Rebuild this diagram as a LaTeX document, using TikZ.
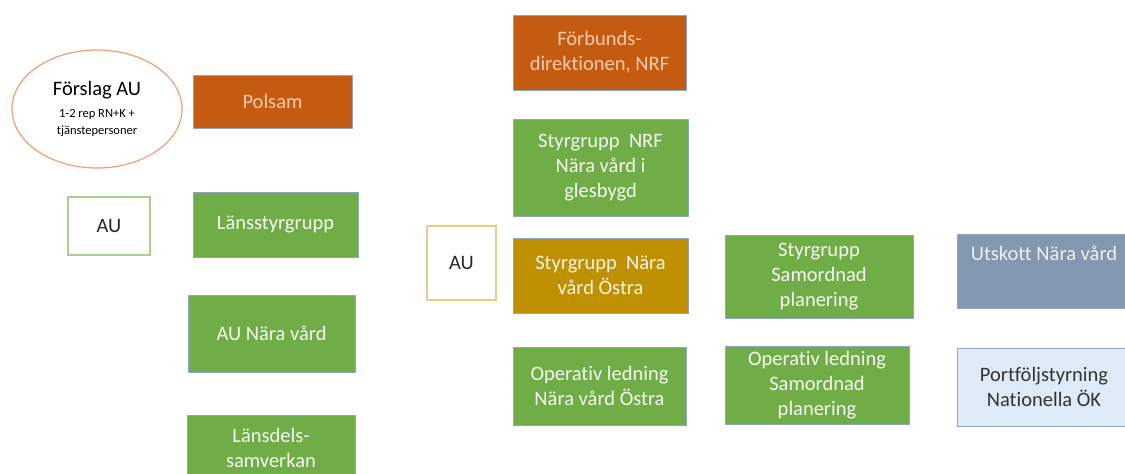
\documentclass[tikz,border=0pt]{standalone}
\usepackage{fontspec}
\setmainfont{Carlito}[Ligatures={NoCommon}]
\usetikzlibrary{shapes.geometric}
\definecolor{orgfill}{HTML}{C55A11}
\definecolor{grnfill}{HTML}{70AD47}
\definecolor{goldfill}{HTML}{BF9000}
\definecolor{slatefill}{HTML}{8497B0}
\definecolor{palefill}{HTML}{DEEBF7}
\definecolor{edge}{HTML}{8FA8C8}
\definecolor{peach}{HTML}{F8CBAD}
\definecolor{ringline}{HTML}{EFA06E}
\definecolor{auline}{HTML}{A9D18E}

\begin{document}
\begin{tikzpicture}[x=1pt,y=-1pt,
    every node/.style={font=\fontsize{20.5}{25}\selectfont,align=center,inner sep=2pt},
    org/.style={rectangle,fill=orgfill,draw=edge,line width=1pt,text=peach},
    grn/.style={rectangle,fill=grnfill,draw=edge,line width=1pt,text=white!92!grnfill},
    gold/.style={rectangle,fill=goldfill,draw=edge,line width=1pt,text=white!90!goldfill},
    slate/.style={rectangle,fill=slatefill,draw=edge,line width=1pt,text=white!85!slatefill},
    pale/.style={rectangle,fill=palefill,draw=edge,line width=1pt,text=black!80},
    au/.style={rectangle,draw,line width=1.2pt,text=black!85,minimum width=#1}]
        \useasboundingbox (0,0) rectangle (1125,474);
        \node[ellipse,draw=ringline,line width=1.2pt,minimum width=170,minimum height=118] (fau) at (97,109)
          {Förslag AU\\[-3pt]{\fontsize{12.5}{14}\selectfont 1-2 rep RN+K +}\\[-8pt]{\fontsize{12.5}{14}\selectfont tjänstepersoner}};
        \node[org,minimum width=159,minimum height=53] (pol) at (272.5,101.5) {Polsam};
        \node[au=82,draw=auline,minimum height=58] (au1) at (109,226) {AU};
        \node[grn,minimum width=165,minimum height=65] (lsg) at (275.5,224.5) {Länsstyrgrupp};
        \node[grn,minimum width=167,minimum height=77] (aun) at (271.5,333.5) {AU Nära vård};
        \node[grn,minimum width=168,minimum height=65] (lds) at (271,447.5) {Länsdels-\\samverkan};
        \node[org,minimum width=173,minimum height=75] (fdk) at (599.5,52.5) {Förbunds-\\direktionen, NRF};
        \node[grn,minimum width=175,minimum height=97] (snrf) at (600.5,167.5) {Styrgrupp\ \ NRF\\Nära vård i\\glesbygd};
        \node[au=69,draw=goldfill!45,minimum height=74] (au2) at (461.5,263) {AU};
        \node[gold,minimum width=175,minimum height=75] (snvo) at (600.5,275.5) {Styrgrupp\ \ Nära\\vård Östra};
        \node[grn,minimum width=173,minimum height=78] (onvo) at (599.5,386) {Operativ ledning\\Nära vård Östra};
        \node[grn,minimum width=188,minimum height=83] (ssp) at (819,276.5) {Styrgrupp\\Samordnad\\planering};
        \node[grn,minimum width=184,minimum height=78,inner sep=0pt] (osp) at (817,385) {Operativ ledning\\Samordnad\\planering};
        \node[slate,minimum width=174,inner sep=0pt,text height=26,text depth=48] (unv) at (1044,271) {Utskott Nära vård};
        \node[pale,minimum width=174,minimum height=78] (pnok) at (1044,387) {Portföljstyrning\\Nationella ÖK};
      \end{tikzpicture}
\end{document}
